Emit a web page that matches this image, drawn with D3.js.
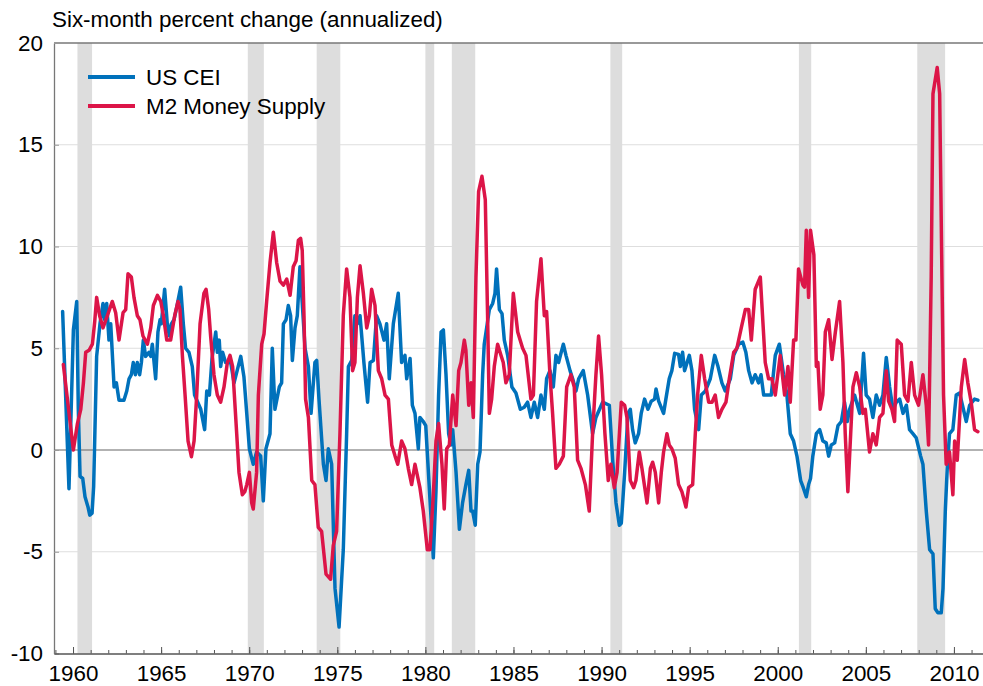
<!DOCTYPE html>
<html>
<meta charset="utf-8" />
<script src="https://d3js.org/d3.v7.min.js"></script>
<style>
  body { margin: 0; background: #fff; }
  text { font-family: "Liberation Sans", Arial, sans-serif; fill: #000; }
</style>
<body>
<svg id="chart" width="983" height="686"></svg>
<script>
// values (decimal years)
const ceiDates = [1959.41,1959.77,1960.02,1960.21,1960.30,1960.40,1960.55,1960.68,1960.85,1960.95,1961.08,1961.17,1961.34,1961.53,1961.70,1961.80,1961.91,1962.04,1962.14,1962.33,1962.46,1962.61,1962.89,1963.05,1963.18,1963.31,1963.42,1963.54,1963.65,1963.78,1963.88,1963.99,1964.12,1964.31,1964.41,1964.50,1964.69,1964.82,1964.94,1965.01,1965.20,1965.35,1965.47,1965.58,1965.73,1965.88,1966.11,1966.26,1966.39,1966.58,1966.77,1966.90,1967.25,1967.47,1967.59,1967.74,1967.89,1968.10,1968.19,1968.30,1968.38,1968.49,1968.66,1968.95,1969.14,1969.52,1969.70,1969.86,1970.01,1970.14,1970.23,1970.42,1970.65,1970.80,1970.95,1971.18,1971.31,1971.46,1971.71,1971.84,1971.94,1972.09,1972.22,1972.35,1972.45,1972.60,1972.73,1972.88,1973.17,1973.36,1973.51,1973.73,1973.83,1973.96,1974.21,1974.36,1974.49,1974.68,1974.87,1975.10,1975.34,1975.53,1975.63,1975.82,1976.00,1976.14,1976.29,1976.51,1976.72,1976.86,1977.05,1977.23,1977.42,1977.65,1977.80,1977.95,1978.18,1978.46,1978.65,1978.84,1978.94,1979.13,1979.26,1979.41,1979.60,1979.69,1979.88,1980.02,1980.45,1980.60,1980.75,1980.89,1981.02,1981.17,1981.32,1981.45,1981.55,1981.74,1981.93,1982.11,1982.30,1982.46,1982.59,1982.68,1982.83,1982.97,1983.10,1983.25,1983.34,1983.63,1983.82,1983.95,1984.04,1984.20,1984.35,1984.48,1984.67,1984.91,1985.14,1985.39,1985.61,1985.80,1985.99,1986.18,1986.37,1986.56,1986.75,1986.88,1987.07,1987.26,1987.41,1987.56,1987.83,1987.98,1988.21,1988.36,1988.55,1988.70,1988.83,1988.96,1989.21,1989.49,1989.68,1990.06,1990.44,1990.63,1990.82,1991.01,1991.12,1991.31,1991.50,1991.63,1991.76,1991.91,1992.10,1992.25,1992.44,1992.63,1992.82,1993.01,1993.09,1993.24,1993.52,1993.65,1993.84,1993.99,1994.15,1994.37,1994.47,1994.60,1994.71,1994.98,1995.13,1995.28,1995.51,1995.66,1995.89,1996.17,1996.42,1996.61,1996.83,1997.02,1997.31,1997.50,1997.78,1998.02,1998.19,1998.35,1998.54,1998.72,1998.91,1999.05,1999.20,1999.63,1999.86,2000.09,2000.33,2000.52,2000.71,2000.90,2001.09,2001.30,2001.43,2001.62,2001.75,2001.86,2001.99,2002.19,2002.38,2002.56,2002.75,2002.89,2003.04,2003.23,2003.42,2003.61,2003.79,2003.95,2004.08,2004.36,2004.65,2004.87,2005.02,2005.21,2005.40,2005.59,2005.78,2005.97,2006.16,2006.35,2006.54,2006.73,2006.92,2007.11,2007.30,2007.48,2007.67,2007.86,2008.11,2008.24,2008.43,2008.62,2008.81,2008.94,2009.09,2009.28,2009.38,2009.51,2009.62,2009.75,2009.94,2010.13,2010.32,2010.70,2010.89,2011.17,2011.36];
const ceiValues = [6.8,-1.9,5.9,7.3,2.0,-1.3,-1.4,-2.3,-2.8,-3.2,-3.1,-1.8,4.6,6.2,7.2,6.4,7.2,5.4,6.2,3.1,3.3,2.45,2.45,2.9,3.5,3.7,4.3,3.7,4.3,3.7,4.3,5.4,4.6,4.8,4.6,5.2,3.5,5.8,6.4,6.2,7.9,6.2,5.6,6.2,6.4,7.0,8.0,6.2,5.0,4.8,4.1,2.7,2.0,1.0,2.9,2.7,4.5,5.8,4.8,5.4,4.1,4.8,4.3,4.3,3.3,4.6,3.6,1.8,0.06,-0.4,-0.7,-0.1,-0.3,-2.5,0.06,0.8,5.0,2.0,3.1,3.3,6.2,6.4,7.1,6.6,4.4,6.0,6.6,9.0,5.0,4.1,1.8,4.3,4.4,2.5,-0.7,-1.5,0.06,-0.7,-6.8,-8.7,-4.9,0.8,4.1,4.4,6.6,6.2,6.6,4.3,2.35,4.3,4.4,6.6,6.2,5.4,6.2,3.5,6.2,7.7,4.3,4.65,3.5,4.5,2.2,1.8,0.06,1.6,1.4,1.2,-5.3,-2.05,2.7,5.8,5.9,3.7,0.8,0.25,1.0,-1.1,-3.9,-2.6,-1.7,-1.0,-3.0,-3.0,-3.7,-0.7,-0.1,3.7,5.2,6.9,7.2,7.7,8.9,6.9,6.7,5.4,4.65,3.1,2.8,2.0,2.1,2.35,1.6,2.35,1.6,2.7,2.0,3.5,3.9,3.1,4.65,4.3,5.2,4.65,3.9,3.5,2.9,3.5,3.7,3.9,2.7,0.8,1.6,2.35,2.2,-0.5,-2.6,-3.7,-3.6,-1.1,1.8,2.0,1.0,0.35,0.8,1.8,2.5,2.0,2.4,2.5,3.0,2.4,1.8,2.5,3.5,3.9,4.75,4.7,4.1,4.8,3.9,4.65,3.9,2.0,1.0,2.7,2.9,3.5,4.65,4.1,3.3,2.9,3.5,4.65,5.2,5.3,4.8,3.9,3.3,3.7,3.3,3.7,2.7,2.7,4.65,5.2,3.7,2.7,0.8,0.44,-0.3,-1.5,-1.8,-2.3,-1.7,-1.4,-0.3,0.8,1.0,0.44,0.35,-0.3,0.25,0.35,1.2,1.4,2.35,1.4,2.0,2.7,1.8,4.75,2.7,2.5,1.6,2.7,2.2,2.7,4.55,3.1,2.0,2.35,2.5,1.8,2.2,1.0,0.8,0.6,-0.3,-0.7,-3.0,-4.9,-5.1,-7.8,-8.0,-8.0,-6.8,-3.0,-0.9,0.8,1.0,2.7,2.8,1.4,2.2,2.5,2.45];

const m2Dates = [1959.45,1960.02,1960.25,1960.44,1960.59,1960.72,1960.91,1961.10,1961.23,1961.34,1961.51,1961.70,1961.95,1962.23,1962.42,1962.61,1962.84,1962.99,1963.12,1963.31,1963.46,1963.65,1963.80,1963.97,1964.22,1964.41,1964.56,1964.79,1964.98,1965.13,1965.32,1965.54,1965.77,1965.96,1966.07,1966.21,1966.36,1966.53,1966.72,1966.87,1967.02,1967.21,1967.43,1967.55,1967.70,1967.81,1968.00,1968.19,1968.38,1968.57,1968.76,1968.91,1969.06,1969.29,1969.42,1969.61,1969.75,1969.86,1970.01,1970.14,1970.23,1970.42,1970.52,1970.71,1970.84,1970.99,1971.18,1971.37,1971.56,1971.75,1971.94,1972.13,1972.32,1972.50,1972.66,1972.79,1972.92,1973.01,1973.11,1973.20,1973.36,1973.55,1973.73,1973.92,1974.11,1974.36,1974.62,1974.77,1974.96,1975.15,1975.34,1975.53,1975.72,1975.87,1976.00,1976.14,1976.29,1976.48,1976.67,1976.82,1976.95,1977.14,1977.33,1977.52,1977.71,1977.90,1978.09,1978.28,1978.43,1978.65,1978.84,1979.03,1979.22,1979.41,1979.69,1979.88,1980.11,1980.26,1980.45,1980.60,1980.75,1980.94,1981.07,1981.21,1981.36,1981.55,1981.74,1981.89,1982.02,1982.21,1982.30,1982.46,1982.59,1982.72,1982.87,1983.02,1983.21,1983.40,1983.53,1983.63,1983.76,1983.91,1984.10,1984.29,1984.42,1984.57,1984.76,1984.99,1985.24,1985.52,1985.71,1985.99,1986.13,1986.31,1986.56,1986.75,1986.88,1987.07,1987.22,1987.41,1987.60,1987.83,1988.02,1988.26,1988.45,1988.64,1988.83,1989.08,1989.30,1989.49,1989.68,1989.83,1990.00,1990.19,1990.38,1990.53,1990.72,1990.88,1991.12,1991.31,1991.44,1991.63,1991.82,1991.95,1992.14,1992.29,1992.58,1992.77,1992.90,1993.05,1993.24,1993.39,1993.52,1993.71,1993.84,1993.99,1994.18,1994.37,1994.56,1994.79,1994.94,1995.17,1995.32,1995.45,1995.66,1995.85,1996.08,1996.27,1996.45,1996.64,1996.83,1997.06,1997.25,1997.50,1997.68,1997.93,1998.16,1998.35,1998.50,1998.72,1999.01,1999.29,1999.48,1999.67,1999.86,2000.14,2000.39,2000.58,2000.71,2000.90,2001.03,2001.18,2001.43,2001.52,2001.62,2001.75,2001.86,2002.05,2002.19,2002.28,2002.41,2002.56,2002.70,2002.89,2003.08,2003.27,2003.51,2003.70,2003.83,2003.98,2004.14,2004.27,2004.46,2004.65,2004.83,2004.97,2005.21,2005.40,2005.59,2005.78,2005.97,2006.16,2006.29,2006.48,2006.63,2006.78,2007.01,2007.20,2007.39,2007.58,2007.77,2007.99,2008.24,2008.43,2008.56,2008.71,2008.81,2009.05,2009.19,2009.32,2009.41,2009.56,2009.75,2009.94,2010.04,2010.19,2010.42,2010.61,2010.79,2010.98,2011.17,2011.36];
const m2Values = [4.2,0.0,1.3,2.0,3.3,4.8,4.9,5.2,6.3,7.5,6.6,6.0,6.6,7.3,6.75,5.4,6.75,6.9,8.66,8.5,7.5,6.6,6.4,5.6,5.2,6.0,7.1,7.6,7.3,6.6,5.4,5.4,6.6,7.3,6.9,4.6,2.7,0.44,-0.33,0.44,2.7,6.2,7.7,7.9,6.9,5.6,3.7,2.7,2.35,3.1,4.3,4.65,4.1,0.8,-1.1,-2.2,-2.05,-1.7,-1.1,-2.6,-2.9,-1.1,2.7,5.2,5.7,7.3,9.2,10.7,9.2,8.3,8.1,8.4,7.6,9.0,9.3,10.3,10.4,9.8,6.6,2.5,1.6,-1.5,-1.7,-3.8,-4.0,-6.1,-6.35,-4.7,-4.0,0.8,6.6,8.9,7.5,3.9,4.3,7.5,9.05,7.7,6.0,6.6,7.9,7.1,3.9,3.5,2.7,2.5,0.25,-0.3,-0.7,0.44,0.06,-0.9,-1.7,-0.7,-1.85,-3.0,-4.9,-4.9,-2.2,0.44,1.3,-0.7,-2.9,0.06,0.25,2.7,1.2,3.9,4.3,5.4,4.9,2.2,3.3,1.6,8.5,12.7,13.45,12.3,6.6,1.8,2.5,4.1,5.2,4.65,4.3,3.3,3.7,7.7,5.8,5.0,4.65,2.5,2.7,7.3,9.4,6.6,6.8,3.7,1.8,-0.9,-0.7,-0.3,3.1,3.7,3.1,-0.5,-0.9,-1.7,-3.0,0.8,3.7,5.6,3.7,0.8,-1.5,-0.7,-1.85,-1.1,2.35,2.2,1.6,-1.5,-1.85,-1.5,-0.1,-0.9,-2.6,-0.9,-0.6,-1.1,-2.6,-1.1,-0.1,0.8,0.25,0.06,-0.4,-1.7,-2.05,-2.8,-1.85,-1.7,0.8,2.7,4.65,3.5,2.35,2.35,2.7,1.6,2.0,2.35,3.5,4.8,5.0,6.0,6.9,6.9,5.4,7.9,8.5,4.3,3.5,3.5,2.7,4.65,2.7,4.1,2.35,5.4,5.4,8.9,8.1,8.0,10.8,7.5,10.8,9.6,4.1,4.3,2.0,2.7,5.8,6.4,4.45,5.8,7.3,4.3,0.8,-2.05,0.8,3.1,3.8,3.1,1.8,2.0,-0.1,0.8,0.25,1.6,1.8,3.9,2.4,2.0,1.4,5.4,5.2,2.7,2.4,4.3,2.7,2.2,3.7,2.2,0.25,8.5,17.5,18.8,17.5,8.5,2.7,-0.7,-0.1,-2.2,0.44,-0.5,3.1,4.45,3.3,2.35,1.0,0.9];

const recessionStart = [1960.25, 1969.92, 1973.83, 1980.0, 1981.5, 1990.5, 2001.2, 2007.92];
const recessionEnd = [1961.08, 1970.83, 1975.17, 1980.5, 1982.83, 1991.17, 2001.9, 2009.5];

const yTicks = [-10, -5, 0, 5, 10, 15, 20];
const yGrid = [-5, 5, 10, 15];
const xMajor = [1960, 1965, 1970, 1975, 1980, 1985, 1990, 1995, 2000, 2005, 2010];
const xMinor = d3.range(1959, 2012);

const seriesNames = ["US CEI", "M2 Money Supply"];
const seriesColors = ["#0071bb", "#dc1548"];

const svg = d3.select("#chart");
const x = d3.scaleLinear().domain([1958.92, 2011.65]).range([54, 983]);
const y = d3.scaleLinear().domain([-10, 20]).range([653.5, 43]);

// light gridlines
svg.append("g")
  .selectAll("line")
  .data(yGrid)
  .join("line")
  .attr("x1", x.range()[0]).attr("x2", x.range()[1])
  .attr("y1", d => y(d)).attr("y2", d => y(d))
  .attr("stroke", "#dedede").attr("stroke-width", 1);

// recession bands
svg.append("g")
  .selectAll("rect")
  .data(recessionStart)
  .join("rect")
  .attr("x", (d) => x(d))
  .attr("width", (d, i) => x(recessionEnd[i]) - x(d))
  .attr("y", y(20))
  .attr("height", y(-10) - y(20))
  .attr("fill", "#dddddd");

// zero line
svg.append("line")
  .attr("x1", x.range()[0]).attr("x2", x.range()[1])
  .attr("y1", y(0)).attr("y2", y(0))
  .attr("stroke", "#666").attr("stroke-width", 1.2);

// frame top
svg.append("line")
  .attr("x1", x.range()[0]).attr("x2", x.range()[1])
  .attr("y1", y(20)).attr("y2", y(20))
  .attr("stroke", "#777").attr("stroke-width", 1.3);

// y axis (plain hyphen for negatives, like the original)
const yAxis = svg.append("g")
  .attr("transform", `translate(${x.range()[0]},0)`)
  .call(d3.axisLeft(y).tickValues(yTicks).tickSize(-5).tickSizeOuter(0).tickPadding(11).tickFormat(d => String(d)));
yAxis.select(".domain").attr("stroke", "#777").attr("stroke-width", 1.3);
yAxis.selectAll(".tick line").attr("stroke", "#999");
yAxis.selectAll("text").style("font-size", "22.4px").attr("font-family", null);

// x axis, minor then major ticks
const xMinorAxis = svg.append("g")
  .attr("transform", `translate(0,${y(-10)})`)
  .call(d3.axisBottom(x).tickValues(xMinor).tickSize(-3.5).tickSizeOuter(0).tickFormat(""));
xMinorAxis.select(".domain").attr("stroke", "#555").attr("stroke-width", 1.3);
xMinorAxis.selectAll(".tick line").attr("stroke", "#555");

const xAxis = svg.append("g")
  .attr("transform", `translate(0,${y(-10)})`)
  .call(d3.axisBottom(x).tickValues(xMajor).tickSize(-6.5).tickSizeOuter(0).tickPadding(12).tickFormat(d3.format("d")));
xAxis.select(".domain").remove();
xAxis.selectAll(".tick line").attr("stroke", "#555");
xAxis.selectAll("text").style("font-size", "22.4px").attr("font-family", null);

// series lines
const line = d3.line()
  .x(d => x(d[0]))
  .y(d => y(d[1]))
  .curve(d3.curveLinear);

const series = [
  d3.zip(ceiDates, ceiValues),
  d3.zip(m2Dates, m2Values)
];

svg.append("g")
  .selectAll("path")
  .data(series)
  .join("path")
  .attr("d", line)
  .attr("fill", "none")
  .attr("stroke", (d, i) => seriesColors[i])
  .attr("stroke-width", 3.5)
  .attr("stroke-linejoin", "round")
  .attr("stroke-linecap", "round");

// title
svg.append("text")
  .attr("x", 52)
  .attr("y", 27)
  .style("font-size", "22.4px")
  .text("Six-month percent change (annualized)");

// legend
const legend = svg.append("g").attr("transform", "translate(88,77)");
seriesNames.forEach((name, i) => {
  legend.append("line")
    .attr("x1", 0).attr("x2", 47)
    .attr("y1", i * 29).attr("y2", i * 29)
    .attr("stroke", seriesColors[i])
    .attr("stroke-width", 4);
  legend.append("text")
    .attr("x", 58)
    .attr("y", i * 29 + 8)
    .style("font-size", "22.4px")
    .text(name);
});
</script>
</body>
</html>
